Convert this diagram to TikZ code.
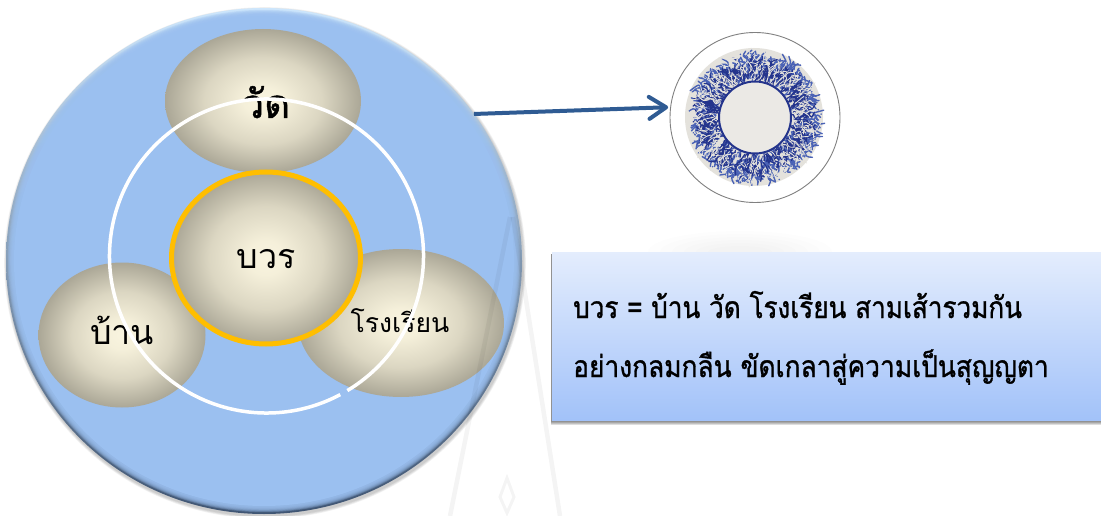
\documentclass[tikz,border=0pt]{standalone}
\usepackage{fontspec}
\usetikzlibrary{arrows.meta,shapes.geometric}
\newfontfamily\thaifont[Script=Thai]{Loma}
\newfontfamily\thaibold[Script=Thai,FakeBold=1.1]{Loma}
\definecolor{skyfill}{HTML}{9BC0F0}
\definecolor{skylight}{HTML}{CDE6FC}
\definecolor{skydark}{HTML}{3F5573}
\definecolor{arrowblue}{HTML}{2F5B93}
\definecolor{ringgold}{HTML}{FFBE00}
\definecolor{platedark}{HTML}{24348C}
\definecolor{platemid}{HTML}{4A62B5}
\definecolor{plategray}{HTML}{E4E2DC}
\definecolor{boxtop}{HTML}{E4EDFD}
\definecolor{boxbot}{HTML}{A2C2F9}
\pgfdeclareradialshading{eggshade}{\pgfpoint{0bp}{0bp}}{
  rgb(0bp)=(0.976,0.957,0.875);
  rgb(5bp)=(0.96,0.94,0.855);
  rgb(15bp)=(0.86,0.84,0.76);
  rgb(25bp)=(0.67,0.655,0.59);
  rgb(50bp)=(0.67,0.655,0.59)}
\tikzset{
  egg/.style={ellipse,inner sep=0pt,outer sep=0pt,shading=eggshade},
  egglabel/.style={inner sep=0pt,text=black},
  wmline/.style={draw=black,draw opacity=.045,line width=4.5pt},
  boxline/.style={anchor=base west,inner sep=0pt,text=black,font=\thaibold\fontsize{30}{30}\selectfont},
  flame/.style={line width=#1,line cap=round},
}
\begin{document}
\begin{tikzpicture}[x=1pt,y=-1pt]
\useasboundingbox (0,0) rectangle (1101,516);
\fill[white] (0,0) rectangle (1101,516);
% faint reflection above the box
\foreach \k in {1,...,6}{
  \fill[black,opacity=.007] (740,252) ellipse [x radius={20pt+\k*12pt},y radius={3pt+\k*3pt}];
}
% big disc: soft shadow, bevel, face
\foreach \k in {1,...,4}{
  \fill[black,opacity=.05] (265,263) ellipse [x radius={258pt+\k*.7pt},y radius={253pt+\k*.7pt}];
}
\node[ellipse,minimum width=516pt,minimum height=506pt,inner sep=0pt,outer sep=0pt,top color=skylight,bottom color=skydark] (big) at (264,261) {};
\foreach \k in {1,...,7}{
  \fill[skyfill,opacity=.3] (264,261) ellipse [x radius={257pt-\k*.8pt},y radius={252pt-\k*.8pt}];
}
\fill[skyfill] (264,261) ellipse [x radius=250pt,y radius=245pt];
% satellites
\node[egg,minimum width=196pt,minimum height=144pt] (wat) at (263,101) {};
\node[egg,minimum width=167pt,minimum height=145pt] (ban) at (122,335) {};
\node[egg,minimum width=206pt,minimum height=148pt] (rong) at (401,323) {};
\node[egg,minimum width=189pt,minimum height=172pt,draw=ringgold,line width=5pt] (bwr) at (266,258) {};
\node[egglabel,anchor=base,font=\thaibold\fontsize{40}{40}\selectfont] (watt) at (266,118) {วัด};
\node[egglabel,anchor=base,font=\thaifont\fontsize{34}{34}\selectfont] (bant) at (122,344) {บ้าน};
\node[egglabel,anchor=base,font=\thaifont\fontsize{26.6}{27}\selectfont] (rongt) at (400,332) {โรงเรียน};
\node[egglabel,anchor=base,font=\thaifont\fontsize{34}{34}\selectfont] (bwrt) at (266,268) {บวร};
% white ring
\draw[white,line width=3.5pt] (266.5,256) ++(-59:157pt) arc[start angle=-59,end angle=298,radius=157pt];
% watermark
\draw[wmline] (510,217) -- (450,516);
\draw[wmline] (513,217) -- (560,516);
\draw[wmline,line width=3pt] (507,478) -- (500,497) -- (507,513) -- (514,497) -- cycle;
% plate
\node[circle,minimum size=170pt,inner sep=0pt,outer sep=0pt,draw=black!50,line width=.9pt,fill=white] (plate) at (755,117.5) {};
\fill[plategray] (754,117) circle (69pt);
\pgfmathsetseed{11}
\foreach \c/\n/\w/\rmax in {platemid/600/1.4pt/24,platedark/480/1.2pt/18,plategray/320/.8pt/24}{
  \foreach \i in {1,...,\n}{
    \pgfmathsetmacro{\a}{rnd*360}
    \pgfmathsetmacro{\r}{36+rnd*\rmax}
    \pgfmathsetmacro{\l}{3+rnd*8}
    \pgfmathsetmacro{\b}{\a+(rnd-.5)*9}
    \pgfmathsetmacro{\m}{\a+(rnd-.5)*12}
    \draw[\c,flame=\w] ([shift={(\a:\r pt)}]plate.center) .. controls ([shift={(\m:\r pt+.5*\l pt)}]plate.center) .. ([shift={(\b:\r pt+\l pt)}]plate.center);
  }
}
\foreach \i in {1,...,40}{
  \pgfmathsetmacro{\a}{rnd*360}
  \pgfmathsetmacro{\r}{61+rnd*6}
  \fill[platemid] ([shift={(\a:\r pt)}]plate.center) circle (.9pt);
}
\fill[plategray!75!white,draw=platedark,line width=2pt] (plate.center) circle (36pt);
% arrow
\draw[arrowblue,line width=4pt,shorten >=2.5pt,-{Straight Barb[length=17pt,width=22pt,line width=4pt,round]}] (big.35.7) -- (plate.173);
% text box
\foreach \k in {1,...,5}{
  \fill[black,opacity=.13] ({552-\k*.3},254) rectangle (1101,{420+\k*.9});
}
\node[minimum width=549pt,minimum height=168pt,inner sep=0pt,outer sep=0pt,top color=boxtop,bottom color=boxbot] (box) at (826.5,336) {};
\node[boxline] (l1) at (573,318) {\scalebox{.87}[1]{บวร = บ้าน วัด โรงเรียน สามเส้ารวมกัน}};
\node[boxline] (l2) at (573,377) {\scalebox{.878}[1]{อย่างกลมกลืน ขัดเกลาสู่ความเป็นสุญญตา}};
\end{tikzpicture}
\end{document}
